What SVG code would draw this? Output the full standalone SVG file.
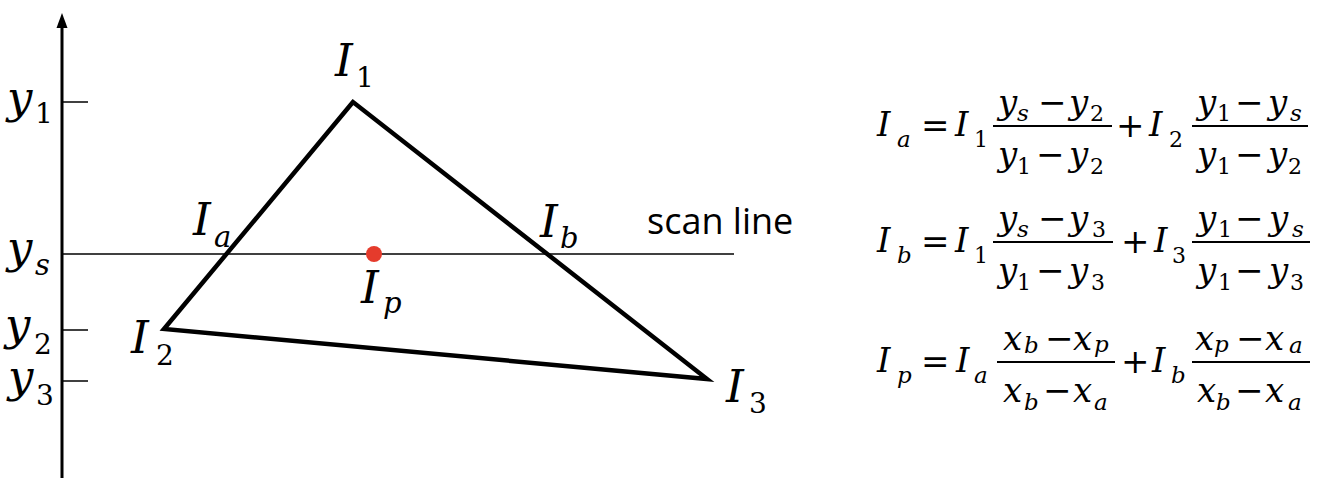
<svg xmlns="http://www.w3.org/2000/svg" width="1340" height="478" viewBox="0 0 1340 478">
<style>
.m, .ms, .md, .e, .es, .ed, .op { font-family: "DejaVu Serif", serif; fill: #000; }
.m { font-style: italic; font-size: 45px; }
.ms { font-style: italic; font-size: 29px; }
.md { font-style: normal; font-size: 28px; }
.e { font-style: italic; font-size: 34px; }
.es { font-style: italic; font-size: 23px; }
.ed { font-style: normal; font-size: 22px; }
.op { font-style: normal; font-size: 34px; }
.sans { font-family: "Open Sans", sans-serif; font-size: 36px; fill: #000; }
.thin { stroke: #000; stroke-width: 1.5; fill: none; }
.bar { stroke: #000; stroke-width: 2; fill: none; }
</style>
<rect width="1340" height="478" fill="#fff"/>

<g id="axis">
  <line x1="62" y1="26" x2="62" y2="478" stroke="#000" stroke-width="3"/>
  <polygon points="62,13 56.5,28 67.5,28" fill="#000"/>
  <line class="thin" x1="62" y1="102" x2="88" y2="102"/>
  <line class="thin" x1="62" y1="330" x2="88" y2="330"/>
  <line class="thin" x1="62" y1="381" x2="88" y2="381"/>
  <text class="m" x="7" y="113">y</text><text class="md" x="35" y="123">1</text>
  <text class="m" x="7" y="263">y</text><text class="ms" x="35" y="275">s</text>
  <text class="m" x="5" y="340">y</text><text class="md" x="34" y="354">2</text>
  <text class="m" x="8" y="392">y</text><text class="md" x="36" y="405">3</text>
</g>

<g id="scanline">
  <line class="thin" x1="62" y1="254" x2="734" y2="254"/>
  <text class="sans" x="647" y="234">scan line</text>
</g>

<g id="triangle">
  <polygon points="353,102 164,329 707,379" fill="none" stroke="#000" stroke-width="4.5" stroke-linejoin="miter"/>
</g>

<g id="point-p">
  <circle cx="374" cy="254" r="8" fill="#e53b2c"/>
</g>

<g id="vertex-labels">
  <text class="m" x="335" y="76">I</text><text class="md" x="356" y="87">1</text>
  <text class="m" x="131" y="353">I</text><text class="md" x="156" y="365">2</text>
  <text class="m" x="726" y="402">I</text><text class="md" x="749" y="413">3</text>
  <text class="m" x="193" y="235">I</text><text class="ms" x="214" y="247">a</text>
  <text class="m" x="540" y="237">I</text><text class="ms" x="560" y="248">b</text>
  <text class="m" x="361" y="303">I</text><text class="ms" x="383" y="313">p</text>
</g>

<g id="eq-a">
  <text class="e" x="877" y="136">I</text><text class="es" x="897" y="147">a</text>
  <text class="op" x="921" y="137">=</text>
  <text class="e" x="955" y="136">I</text><text class="ed" x="974" y="147">1</text>
  <line class="bar" x1="993" y1="126" x2="1112" y2="126"/>
  <text class="e" x="998" y="114">y</text><text class="es" x="1017" y="121">s</text>
  <text class="op" x="1038" y="114">−</text>
  <text class="e" x="1069" y="114">y</text><text class="ed" x="1090" y="121">2</text>
  <text class="e" x="998" y="166">y</text><text class="ed" x="1017" y="174">1</text>
  <text class="op" x="1036" y="166">−</text>
  <text class="e" x="1069" y="166">y</text><text class="ed" x="1090" y="174">2</text>
  <text class="op" x="1116" y="137">+</text>
  <text class="e" x="1149" y="136">I</text><text class="ed" x="1169" y="147">2</text>
  <line class="bar" x1="1192" y1="126" x2="1308" y2="126"/>
  <text class="e" x="1197" y="114">y</text><text class="ed" x="1217" y="121">1</text>
  <text class="op" x="1235" y="114">−</text>
  <text class="e" x="1268" y="114">y</text><text class="es" x="1290" y="121">s</text>
  <text class="e" x="1197" y="166">y</text><text class="ed" x="1217" y="174">1</text>
  <text class="op" x="1235" y="166">−</text>
  <text class="e" x="1268" y="166">y</text><text class="ed" x="1288" y="174">2</text>
</g>

<g id="eq-b" transform="translate(0,116)">
  <text class="e" x="877" y="136">I</text><text class="es" x="897" y="147">b</text>
  <text class="op" x="921" y="137">=</text>
  <text class="e" x="955" y="136">I</text><text class="ed" x="974" y="147">1</text>
  <line class="bar" x1="993" y1="126" x2="1113" y2="126"/>
  <text class="e" x="998" y="114">y</text><text class="es" x="1017" y="121">s</text>
  <text class="op" x="1038" y="114">−</text>
  <text class="e" x="1069" y="114">y</text><text class="ed" x="1092" y="121">3</text>
  <text class="e" x="998" y="166">y</text><text class="ed" x="1017" y="174">1</text>
  <text class="op" x="1036" y="166">−</text>
  <text class="e" x="1069" y="166">y</text><text class="ed" x="1091" y="174">3</text>
  <text class="op" x="1121" y="137">+</text>
  <text class="e" x="1154" y="136">I</text><text class="ed" x="1172" y="147">3</text>
  <line class="bar" x1="1192" y1="126" x2="1310" y2="126"/>
  <text class="e" x="1197" y="114">y</text><text class="ed" x="1218" y="121">1</text>
  <text class="op" x="1235" y="114">−</text>
  <text class="e" x="1269" y="114">y</text><text class="es" x="1292" y="121">s</text>
  <text class="e" x="1197" y="166">y</text><text class="ed" x="1218" y="174">1</text>
  <text class="op" x="1235" y="166">−</text>
  <text class="e" x="1269" y="166">y</text><text class="ed" x="1290" y="174">3</text>
</g>

<g id="eq-p" transform="translate(0,236)">
  <text class="e" x="877" y="136">I</text><text class="es" x="897" y="147">p</text>
  <text class="op" x="921" y="137">=</text>
  <text class="e" x="956" y="136">I</text><text class="es" x="974" y="147">a</text>
  <line class="bar" x1="997" y1="126" x2="1115" y2="126"/>
  <text class="e" x="1003" y="114">x</text><text class="es" x="1024" y="117">b</text>
  <text class="op" x="1045" y="114">−</text>
  <text class="e" x="1073" y="114">x</text><text class="es" x="1094" y="116">p</text>
  <text class="e" x="1003" y="166">x</text><text class="es" x="1024" y="174">b</text>
  <text class="op" x="1043" y="166">−</text>
  <text class="e" x="1073" y="166">x</text><text class="es" x="1094" y="174">a</text>
  <text class="op" x="1121" y="137">+</text>
  <text class="e" x="1152" y="136">I</text><text class="es" x="1171" y="147">b</text>
  <line class="bar" x1="1192" y1="126" x2="1310" y2="126"/>
  <text class="e" x="1195" y="114">x</text><text class="es" x="1214" y="116">p</text>
  <text class="op" x="1236" y="114">−</text>
  <text class="e" x="1265" y="114">x</text><text class="es" x="1289" y="117">a</text>
  <text class="e" x="1197" y="166">x</text><text class="es" x="1216" y="174">b</text>
  <text class="op" x="1235" y="166">−</text>
  <text class="e" x="1265" y="166">x</text><text class="es" x="1288" y="174">a</text>
</g>
</svg>
